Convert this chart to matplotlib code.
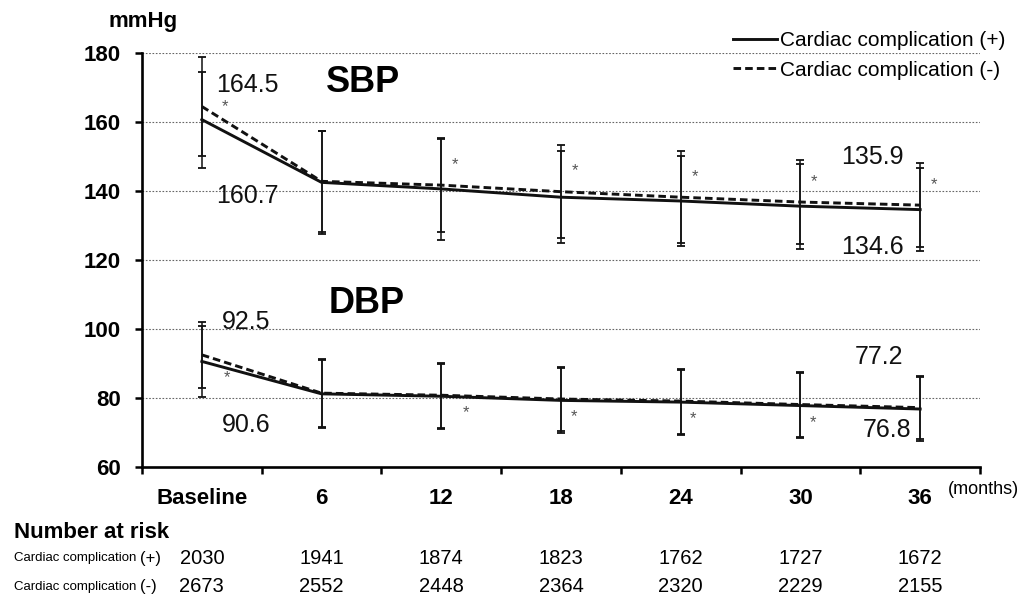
"""
Blood pressure over time by cardiac complication status (SBP / DBP).
"""
import matplotlib
matplotlib.use("Agg")
import matplotlib.pyplot as plt
import matplotlib.transforms as mtransforms
import numpy as np

plt.rcParams.update({
    "font.family": ["Liberation Sans", "DejaVu Sans"],
    "font.size": 12,
    "figure.facecolor": "white",
    "axes.facecolor": "white",
})

# Datos
time_labels = ["Baseline", "6", "12", "18", "24", "30", "36"]
group_labels = ["Cardiac complication (+)", "Cardiac complication (-)"]

sbp_pos = [160.7, 142.5, 140.6, 138.2, 137.1, 135.6, 134.6]
sbp_neg = [164.5, 142.8, 141.7, 139.8, 138.2, 136.8, 135.9]
sbp_pos_sd = [13.9, 15.0, 14.8, 13.3, 13.0, 12.3, 12.0]
sbp_neg_sd = [14.4, 14.7, 13.5, 13.5, 13.3, 12.2, 12.2]

dbp_pos = [90.6, 81.2, 80.5, 79.3, 78.8, 77.8, 76.8]
dbp_neg = [92.5, 81.4, 80.8, 79.7, 79.1, 78.1, 77.2]
dbp_pos_sd = [10.2, 9.9, 9.4, 9.4, 9.4, 9.3, 9.2]
dbp_neg_sd = [9.5, 9.9, 9.4, 9.4, 9.4, 9.3, 9.2]

# p < 0.05 markers per time point
sbp_sig = [1, 0, 1, 1, 1, 1, 1]
dbp_sig = [1, 0, 1, 1, 1, 1, 0]

n_risk_pos = [2030, 1941, 1874, 1823, 1762, 1727, 1672]
n_risk_neg = [2673, 2552, 2448, 2364, 2320, 2229, 2155]

C_LINE = "#111111"
C_GRID = "#666666"
C_STAR = "#555555"
DASHES = (2.6, 1.4)


def draw_series(ax, x, pos, neg, pos_sd, neg_sd):
    for vals, sd in ((pos, pos_sd), (neg, neg_sd)):
        ax.errorbar(x, vals, yerr=sd, fmt="none", ecolor=C_LINE, elinewidth=1.1,
                    capsize=3, capthick=1.3, zorder=3)
    l_pos, = ax.plot(x, pos, color=C_LINE, lw=2.1, zorder=4)
    l_neg, = ax.plot(x, neg, color=C_LINE, lw=2.1, dashes=DASHES, zorder=5)
    return l_pos, l_neg


def value_label(ax, x, y, text, dx, dy, ha):
    ax.annotate(text, xy=(x, y), xytext=(dx, dy), textcoords="offset points",
                ha=ha, va="center", fontsize=18, color=C_LINE)


def main():
    fig = plt.figure(figsize=(10.34, 6.01), dpi=100)
    ax = fig.add_axes([0.1373, 0.2230, 0.8105, 0.6888])

    x = np.arange(len(time_labels))
    l_pos, l_neg = draw_series(ax, x, sbp_pos, sbp_neg, sbp_pos_sd, sbp_neg_sd)
    draw_series(ax, x, dbp_pos, dbp_neg, dbp_pos_sd, dbp_neg_sd)

    # Asteriscos
    for i, s in enumerate(sbp_sig):
        if s:
            off = (17, 0) if i == 0 else (10, 15)
            ax.annotate("*", xy=(x[i], sbp_neg[i]), xytext=off, textcoords="offset points",
                        ha="center", va="center", fontsize=12, color=C_STAR)
    for i, s in enumerate(dbp_sig):
        if s:
            off = (18, -12) if i < 3 else (9, -12)
            ax.annotate("*", xy=(x[i], dbp_pos[i]), xytext=off, textcoords="offset points",
                        ha="center", va="center", fontsize=12, color=C_STAR)

    # Valores inicio / fin
    value_label(ax, x[0], sbp_neg[0], f"{sbp_neg[0]:.1f}", 10, 15.5, "left")
    value_label(ax, x[0], sbp_pos[0], f"{sbp_pos[0]:.1f}", 10, -55, "left")
    value_label(ax, x[-1], sbp_neg[-1], f"{sbp_neg[-1]:.1f}", -12, 34.5, "right")
    value_label(ax, x[-1], sbp_pos[-1], f"{sbp_pos[-1]:.1f}", -12, -27, "right")
    value_label(ax, x[0], dbp_neg[0], f"{dbp_neg[0]:.1f}", 14.5, 23.5, "left")
    value_label(ax, x[0], dbp_pos[0], f"{dbp_pos[0]:.1f}", 14.5, -46, "left")
    value_label(ax, x[-1], dbp_neg[-1], f"{dbp_neg[-1]:.1f}", -12, 36.5, "right")
    value_label(ax, x[-1], dbp_pos[-1], f"{dbp_pos[-1]:.1f}", -6, -15, "right")

    ax.text(1.35, 171.5, "SBP", ha="center", va="center", fontsize=26, fontweight="bold")
    ax.text(1.38, 107.5, "DBP", ha="center", va="center", fontsize=26, fontweight="bold")

    # Ejes
    ax.set_xlim(-0.5, len(time_labels) - 0.5)
    ax.set_ylim(60, 180)
    ax.set_yticks(np.arange(60, 181, 20))
    ax.set_xticks(x)
    ax.set_xticklabels(time_labels, fontsize=16, fontweight="bold")
    ax.set_xticks(np.arange(-0.5, len(time_labels)), minor=True)
    ax.tick_params(axis="x", which="major", length=0, pad=15)
    ax.tick_params(axis="x", which="minor", length=5, width=1.8, direction="out")
    ax.tick_params(axis="y", length=5, width=1.8, direction="out", pad=10)
    for lab in ax.get_yticklabels():
        lab.set_fontsize(16)
        lab.set_fontweight("bold")

    for y in range(80, 181, 20):
        ax.axhline(y, color=C_GRID, lw=0.8, ls=(0, (1.5, 1.5)), zorder=1)

    for side in ("top", "right"):
        ax.spines[side].set_visible(False)
    for side in ("left", "bottom"):
        ax.spines[side].set_linewidth(1.9)

    fig.text(108 / 1034, 1 - 22 / 601, "mmHg", ha="left", va="center",
             fontsize=16, fontweight="bold")
    fig.text(948 / 1034, 1 - 490 / 601, "(months)", ha="left", va="center", fontsize=13)

    fig.legend([l_pos, l_neg], group_labels, loc="upper right",
               bbox_to_anchor=(0.972, 0.948), frameon=False, fontsize=15,
               handlelength=2.1, handletextpad=0.12, labelspacing=0.5,
               borderpad=0, borderaxespad=0)

    # Numero en riesgo
    trans = mtransforms.blended_transform_factory(ax.transData, fig.transFigure)
    fig.text(14 / 1034, 1 - 533 / 601, "Number at risk", ha="left", va="center",
             fontsize=16, fontweight="bold")
    rows = [(558, n_risk_pos, "(+)"), (587, n_risk_neg, "(-)")]
    for ypx, counts, sign in rows:
        yf = 1 - ypx / 601
        fig.text(14 / 1034, yf, "Cardiac complication", ha="left", va="center", fontsize=9.5)
        fig.text(140 / 1034, yf, sign, ha="left", va="center", fontsize=12)
        for xi, n in zip(x, counts):
            ax.text(xi, yf, str(n), transform=trans, ha="center", va="center", fontsize=14.5)

    fig.savefig("out.png", dpi=100)
    plt.close(fig)


if __name__ == "__main__":
    main()
